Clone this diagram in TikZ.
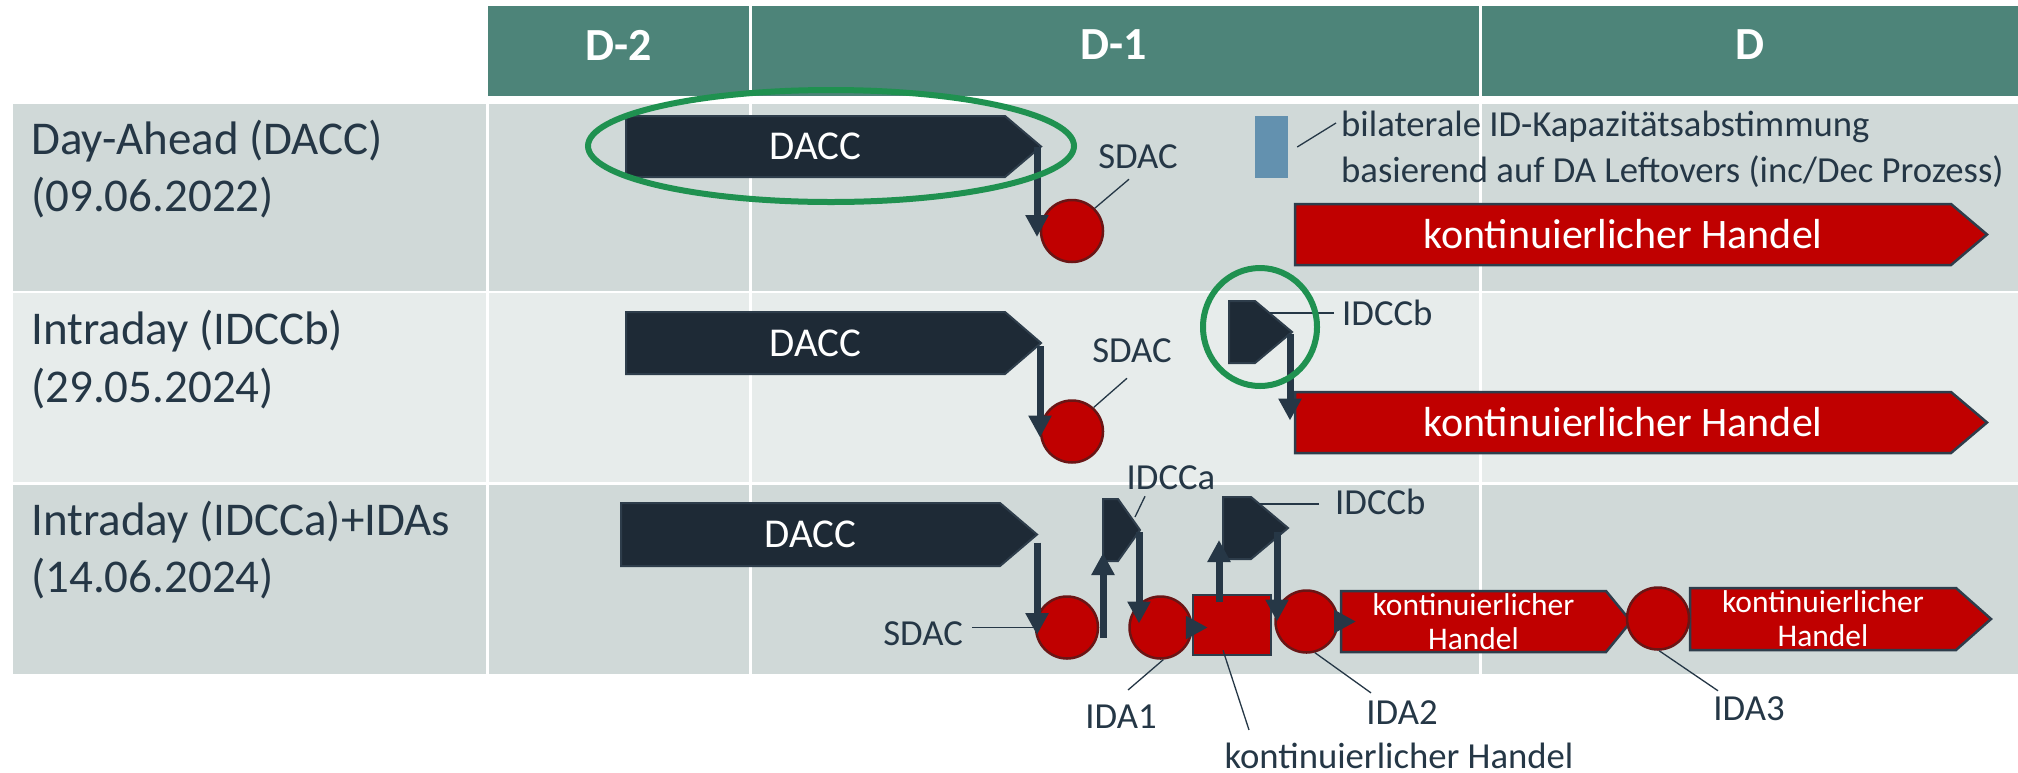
\documentclass[tikz,border=0pt]{standalone}
\usepackage{fontspec}
\setmainfont{Carlito}
\usetikzlibrary{arrows.meta}

\definecolor{hdr}{HTML}{4D8479}
\definecolor{rowA}{HTML}{D0D9D8}
\definecolor{rowB}{HTML}{E7ECEB}
\definecolor{navy}{HTML}{1E2A36}
\definecolor{navyedge}{HTML}{2E3D4B}
\definecolor{arr}{HTML}{263746}
\definecolor{ink}{HTML}{253746}
\definecolor{red0}{HTML}{C00000}
\definecolor{redb}{HTML}{6A1515}
\definecolor{hlgreen}{HTML}{1F9150}
\definecolor{steel}{HTML}{6391AF}

% pentagon-shaped process box: name, path style, left x, shoulder x, tip x, top y, bottom y, text, text style
\newcommand\pentbox[9]{%
  \path[#2] (#3,#6) -- (#4,#6) -- (#5,{(#6+#7)/2}) -- (#4,#7) -- (#3,#7) -- cycle;
  \coordinate (#1-tip) at (#5,{(#6+#7)/2});
  \coordinate (#1-ne) at (#4,#6);
  \coordinate (#1-sw) at (#3,#7);
  \coordinate (#1-w) at (#3,{(#6+#7)/2});
  \node[#9] (#1) at ({(#3+#4)/2},{(#6+#7)/2}) {#8};
}

\begin{document}
\begin{tikzpicture}[x=1pt,y=-1pt,
  darkbox/.style={fill=navy, draw=navyedge, line width=2pt},
  redbox/.style={fill=red0, draw=navyedge, line width=2.5pt},
  boxlbl/.style={text=white, inner sep=0, font=\fontsize{41}{48}\selectfont},
  boxlblwide/.style={text=white, inner sep=0, font=\fontsize{42}{48}\selectfont},
  boxlbltwo/.style={text=white, inner sep=0, align=center, font=\fontsize{31.5}{34}\selectfont},
  hdrlbl/.style={text=white, inner sep=0, font=\fontsize{46}{52}\selectfont\bfseries},
  rowlbl/.style={text=ink, inner sep=0, anchor=base west, font=\fontsize{47}{57}\selectfont},
  lbl/.style={text=ink, inner sep=0, font=\fontsize{36.7}{42}\selectfont},
  note/.style={text=ink, inner sep=0, anchor=base west, font=\fontsize{36.7}{46}\selectfont},
  auct/.style={circle, fill=red0, draw=redb, line width=2.5pt, minimum size=62pt, inner sep=0},
  sqbox/.style={rectangle, fill=red0, draw=navyedge, line width=2.5pt, minimum width=78pt, minimum height=60pt, inner sep=0},
  bluebox/.style={rectangle, fill=steel, minimum width=33pt, minimum height=62pt, inner sep=0},
  conn/.style={draw=arr, line width=7pt, -{Triangle[width=22pt,length=22pt]}},
  lead/.style={draw=ink, line width=1.3pt},
  hilite/.style={draw=hlgreen, line width=6pt}]

\path[use as bounding box] (0,0) rectangle (2018,772);
\fill[white] (0,0) rectangle (2018,772);

% table body and header
\fill[rowA] (13,104) rectangle (2018,291);
\fill[rowB] (13,293) rectangle (2018,482);
\fill[rowA] (13,485) rectangle (2018,674);
\fill[hdr] (488,6) rectangle (2018,96);
\draw[white, line width=3pt] (750,6) -- (750,674);
\draw[white, line width=3pt] (1480,6) -- (1480,674);
\draw[white, line width=3pt] (487,104) -- (487,674);

\node[hdrlbl] (hd2) at (619,45) {D-2};
\node[hdrlbl] (hd1) at (1114,45) {D-1};
\node[hdrlbl] (hd0) at (1750,45) {D};

% row titles
\node[rowlbl] (lab1a) at (31,154) {Day-Ahead (DACC)};
\node[rowlbl] (lab1b) at (31,211) {(09.06.2022)};
\node[rowlbl] (lab2a) at (31,344) {Intraday (IDCCb)};
\node[rowlbl] (lab2b) at (31,402) {(29.05.2024)};
\node[rowlbl] (lab3a) at (31,535) {Intraday (IDCCa)+IDAs};
\node[rowlbl] (lab3b) at (31,592) {(14.06.2024)};

% process boxes
\pentbox{dacc1}{darkbox}{626}{1005}{1041}{116}{177}{DACC}{boxlbl}
\pentbox{dacc2}{darkbox}{626}{1005}{1041}{312}{374}{DACC}{boxlbl}
\pentbox{dacc3}{darkbox}{621}{1000}{1037}{503}{566}{DACC}{boxlbl}
\pentbox{kh1}{redbox}{1295}{1951}{1987}{204}{265}{kontinuierlicher Handel}{boxlblwide}
\pentbox{kh2}{redbox}{1295}{1951}{1987}{392}{453}{kontinuierlicher Handel}{boxlblwide}
\pentbox{idccb2}{darkbox}{1229}{1255}{1292}{301}{363}{}{boxlbl}
\pentbox{idcca}{darkbox}{1103}{1118}{1140}{499}{561}{}{boxlbl}
\pentbox{idccb3}{darkbox}{1223}{1251}{1288}{497}{559}{}{boxlbl}
\pentbox{kh3a}{redbox}{1341}{1606}{1631}{591}{652}{kontinuierlicher\\Handel}{boxlbltwo}
\pentbox{kh3b}{redbox}{1690}{1956}{1991}{588}{650}{kontinuierlicher\\Handel}{boxlbltwo}

\node[sqbox] (kh0) at (1232,625) {};
\node[bluebox] (bil) at (1271.5,147) {};

% auctions
\node[auct] (sdac1) at (1072,231) {};
\node[auct] (sdac2) at (1072,431.5) {};
\node[auct] (sdac3) at (1067,627.5) {};
\node[auct] (ida1) at (1160.5,627.5) {};
\node[auct] (ida2) at (1306.5,621.5) {};
\node[auct] (ida3) at (1658,618.5) {};

% labels
\node[lbl] (sdac1lbl) at (1138,157) {SDAC};
\node[lbl] (sdac2lbl) at (1132,351) {SDAC};
\node[lbl, anchor=west] (idccb2lbl) at (1342,313) {IDCCb};
\node[lbl] (idccalbl) at (1171,478) {IDCCa};
\node[lbl, anchor=west] (idccb3lbl) at (1335,502) {IDCCb};
\node[lbl, anchor=east] (sdac3lbl) at (963,634) {SDAC};
\node[lbl] (ida1lbl) at (1121,717) {IDA1};
\node[lbl] (khlbl) at (1399,756) {kontinuierlicher Handel};
\node[lbl] (ida2lbl) at (1402,713) {IDA2};
\node[lbl] (ida3lbl) at (1749,709) {IDA3};
\node[note] (bil1) at (1341,136) {bilaterale ID-Kapazitätsabstimmung};
\node[note] (bil2) at (1341,182) {basierend auf DA Leftovers (inc/Dec Prozess)};

% leader lines
\draw[lead] ([xshift=-9pt,yshift=-10pt]sdac1lbl.south) -- (sdac1.45);
\draw[lead] ([xshift=-5pt,yshift=-15pt]sdac2lbl.south) -- (sdac2.48);
\draw[lead] ([xshift=-8pt]idccb2lbl.west) -- ([xshift=15pt]idccb2-ne |- idccb2lbl.west);
\draw[lead] ([xshift=-26pt,yshift=-6pt]idccalbl.south) -- ([xshift=17pt,yshift=-18pt]idcca-ne);
\draw[lead] ([xshift=-16pt,yshift=-2pt]idccb3lbl.west) -- ([xshift=8pt,yshift=-2pt]idccb3-ne |- idccb3lbl.west);
\draw[lead] ([xshift=9pt]sdac3lbl.east |- sdac3.west) -- (sdac3.west);
\draw[lead] ([xshift=7pt,yshift=15pt]ida1lbl.north) -- (ida1.-85);
\draw[lead] ([xshift=-9pt,yshift=6pt]kh0.south) -- ([xshift=-150pt,yshift=13pt]khlbl.north);
\draw[lead] (ida2.-75) -- ([xshift=-31pt,yshift=8pt]ida2lbl.north);
\draw[lead] (ida3.-88) -- ([xshift=-31pt,yshift=6pt]ida3lbl.north);
\draw[lead] ([xshift=9pt]bil.east) -- ([xshift=-5pt,yshift=13pt]bil1.base west);

% flow arrows
\draw[conn] ([xshift=-4pt]dacc1-tip) -- ([xshift=-4pt,yshift=-6pt]dacc1-tip |- sdac1.center);
\draw[conn] ([xshift=-1pt,yshift=-3pt]dacc2-tip) -- ([xshift=-1pt,yshift=-6pt]dacc2-tip |- sdac2.center);
\draw[conn] ([xshift=-2pt,yshift=-2pt]idccb2-tip) -- ([xshift=-2pt,yshift=2pt]idccb2-tip |- kh2-w);
\draw[conn] ([yshift=-8pt]dacc3-tip) -- ([yshift=-7.5pt]dacc3-tip |- sdac3.center);
\draw[conn] ([yshift=-10pt]idcca-sw |- sdac3.center) -- ([yshift=8pt]idcca-sw);
\draw[conn] ([xshift=-1pt,yshift=-2pt]idcca-tip) -- ([xshift=-1pt,yshift=4pt]idcca-tip |- ida1.center);
\draw[conn] ([xshift=-5pt]ida1.east) -- ([xshift=16pt]kh0.west |- ida1.center);
\draw[conn] ([xshift=-4pt,yshift=-8pt]idccb3-sw |- kh0.north) -- ([xshift=-4pt,yshift=19pt]idccb3-sw);
\draw[conn] ([xshift=-11pt,yshift=-4pt]idccb3-tip) -- ([xshift=-11pt]idccb3-tip |- ida2.center);
\draw[conn] ([xshift=-3pt]ida2.east) -- ([xshift=15pt]kh3a-w |- ida2.center);

% highlights
\draw[hilite] (831,146) ellipse [x radius=243pt, y radius=56pt];
\draw[hilite] (1260,327) ellipse [x radius=57pt, y radius=59pt];
\end{tikzpicture}
\end{document}
